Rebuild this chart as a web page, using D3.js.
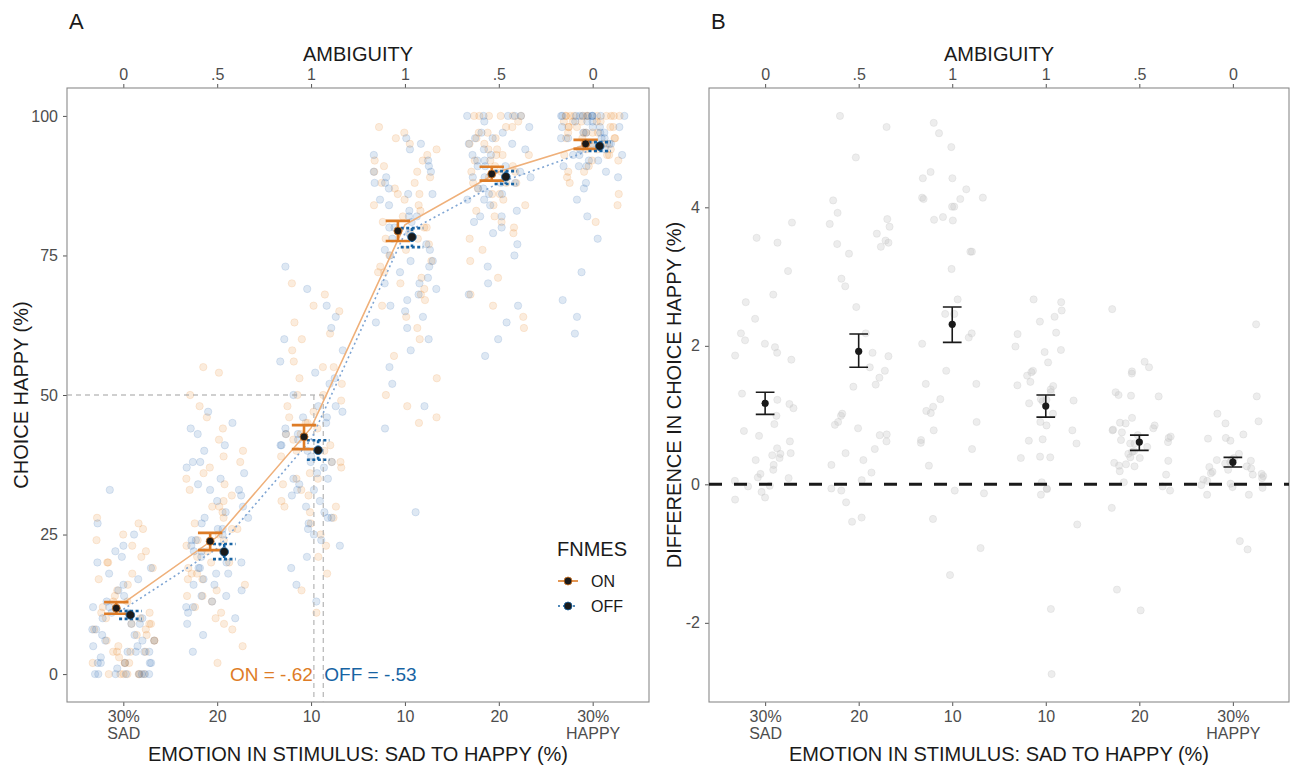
<!DOCTYPE html>
<html>
<head>
<meta charset="utf-8">
<script src="https://cdn.jsdelivr.net/npm/d3@7"></script>
<style>
body { margin: 0; background: #fff; }
text { font-family: "Liberation Sans", Arial, Helvetica, sans-serif; }
</style>
</head>
<body>
<svg id="chart" width="1293" height="767"></svg>
<script>
// ---- data ----
var emotionLabels = ["30%", "20", "10", "10", "20", "30%"];
var emotionSub = ["SAD", "", "", "", "", "HAPPY"];
var ambiguityLabels = ["0", ".5", "1", "1", ".5", "0"];
var yTicksA = [0, 25, 50, 75, 100];
var yTicksB = [-2, 0, 2, 4];

// panel A: group means and error bars (choice happy %)
var onMean = [11.8, 23.8, 42.5, 79.4, 89.6, 95.0];
var onLo   = [10.8, 22.2, 40.3, 77.6, 88.4, 94.1];
var onHi   = [12.9, 25.3, 44.6, 81.2, 90.9, 95.7];
var offMean = [10.6, 21.9, 40.1, 78.3, 89.1, 94.6];
var offLo   = [9.9, 20.6, 38.4, 76.5, 87.8, 93.7];
var offHi   = [11.3, 23.3, 41.9, 79.9, 90.1, 95.3];
// fitted curves drawn through the groups
var onFit  = [12.7, 24.6, 44.1, 80.5, 90.0, 95.2];
var offFit = [11.6, 22.5, 42.0, 79.0, 88.0, 94.0];
// points of subjective equality (x position) and their labels
var pseX = [3.03, 3.13];
var pseLabels = ["ON = -.62", "OFF = -.53"];

// panel A: individual observations
var onPts = [
  [0,0,0,0,0,0,0,2,2,2,2,4,4,4,4,5,6,6,7,7,8,8,9,9,10,10,11,11,12,13,13,14,15,16,17,18,19,20,20,21,22,23,24,25,26,27,28,3,6,9],
  [2,5,8,9,10,11,12,13,14,15,16,17,18,19,20,20,21,22,23,24,25,26,27,28,29,30,31,32,33,34,35,36,37,38,39,40,42,44,46,48,50,54,55,14,18,22,26,30,17,24],
  [11,15,18,21,23,25,27,28,29,30,31,32,33,34,35,36,37,38,39,40,41,42,43,44,45,46,47,48,49,50,52,53,55,56,58,60,61,63,65,66,68,70,30,35,40,45,50,55,38,43],
  [45,46,48,50,53,57,60,62,64,66,67,68,69,70,71,72,73,74,75,76,77,78,79,80,81,82,83,84,85,86,87,88,89,90,90,91,92,93,94,95,96,97,98,72,78,84,88,80,86,92],
  [62,64,66,68,71,74,76,78,79,80,81,82,83,84,85,86,87,88,88,89,90,90,91,92,92,93,93,94,95,95,96,97,98,98,99,100,100,100,100,100,100,84,88,91,94,96,86,90,93,97],
  [81,84,86,88,89,90,91,92,92,93,93,94,94,95,95,96,96,97,97,97,98,98,98,99,99,99,100,100,100,100,100,100,100,100,100,100,100,100,90,93,95,96,97,98,99,94,96,98,99,97]
];
var offPts = [
  [0,0,0,0,0,0,0,0,2,2,2,2,2,4,4,4,4,5,6,6,7,7,8,9,9,10,10,11,12,12,13,14,15,16,17,18,19,20,21,22,23,25,27,33,3,5,8,11,1,6],
  [4,7,9,10,11,12,13,14,15,16,17,18,19,19,20,21,22,23,24,25,26,27,28,29,30,31,32,33,34,35,36,37,38,40,41,43,45,47,12,16,20,24,28,14,18,22,26,33,38,44],
  [13,16,19,21,23,24,25,26,27,28,29,30,31,32,33,34,35,36,37,38,39,40,41,42,43,44,45,46,47,48,50,52,54,56,58,60,62,64,66,69,73,28,33,38,43,48,53,35,41,46],
  [29,44,48,52,55,58,60,62,63,64,65,66,67,68,69,70,71,72,73,74,75,76,77,78,79,80,81,82,83,84,85,86,87,88,89,90,91,92,93,94,95,96,70,76,82,86,90,74,80,88],
  [57,60,63,66,68,70,73,75,77,79,80,81,82,83,84,85,86,87,87,88,89,89,90,91,91,92,93,93,94,95,96,96,97,98,99,100,100,100,100,100,82,85,88,91,94,86,89,92,95,97],
  [61,64,67,72,78,82,85,87,88,89,90,91,91,92,92,93,93,94,94,95,95,96,96,97,97,97,98,98,98,99,99,100,100,100,100,100,100,100,100,100,100,100,91,93,95,96,97,98,99,96]
];

// panel B: ON - OFF difference
var diffMean = [1.17, 1.92, 2.31, 1.13, 0.61, 0.32];
var diffLo   = [1.01, 1.69, 2.05, 0.97, 0.49, 0.25];
var diffHi   = [1.33, 2.17, 2.56, 1.29, 0.71, 0.39];
var diffPts = [
  [3.78,3.56,3.49,3.08,2.74,2.63,2.39,2.18,2.08,2.03,1.98,1.90,1.86,1.80,1.31,1.16,1.10,0.99,0.87,0.77,0.70,0.62,0.52,0.45,0.44,0.38,0.35,0.28,0.21,0.15,0.09,0.05,-0.02,-0.11,-0.19,-0.22,1.22,0.42,0.10,-0.03],
  [5.32,5.16,4.72,4.10,3.92,3.83,3.76,3.72,3.62,3.52,3.49,3.47,3.43,3.33,2.97,2.86,2.56,2.18,1.90,1.85,1.69,1.64,1.54,1.44,1.41,1.02,0.99,0.90,0.86,0.81,0.72,0.71,0.62,0.51,0.45,0.35,0.28,0.17,0.06,-0.06,-0.09,-0.26,-0.48,-0.54],
  [5.22,5.07,4.87,4.51,4.42,4.42,4.26,4.14,4.12,4.14,4.12,4.01,4.01,3.86,3.81,3.82,3.36,3.36,3.11,2.67,2.46,2.46,2.18,2.12,2.03,1.64,1.45,1.45,1.23,1.12,1.06,1.03,0.90,0.78,0.64,0.60,0.51,0.27,-0.09,-0.13,-0.50,-0.92,-1.31],
  [2.67,2.63,2.51,2.42,2.35,2.19,2.17,1.99,1.94,1.91,1.76,1.64,1.62,1.57,1.48,1.43,1.42,1.37,1.33,1.23,1.22,1.21,1.20,1.17,1.02,0.90,0.85,0.78,0.65,0.63,0.59,0.40,0.39,0.38,0.03,-0.06,-0.07,-0.15,-0.58,-1.80,-2.74],
  [2.53,1.77,1.69,1.63,1.60,1.33,1.29,1.28,1.27,0.96,0.89,0.88,0.85,0.81,0.79,0.78,0.75,0.71,0.69,0.67,0.64,0.61,0.59,0.59,0.54,0.48,0.47,0.44,0.39,0.38,0.34,0.31,0.29,0.27,0.26,0.19,0.14,0.03,-0.03,-0.09,-0.34,-1.52,-1.82],
  [2.31,1.27,1.02,0.91,0.88,0.72,0.67,0.66,0.63,0.44,0.38,0.36,0.35,0.34,0.32,0.30,0.26,0.25,0.23,0.21,0.18,0.16,0.15,0.14,0.12,0.09,0.07,0.05,0.01,-0.01,-0.04,-0.05,-0.15,-0.15,-0.82,-0.94]
];

// ---- styling ----
var ON_COL = "#DE7C26";
var OFF_COL = "#1763A3";
var TEXT_DARK = "#1a1a1a";
var TEXT_TICK = "#4d4d4d";
var TOP = 88, BOTTOM = 702;

var svg = d3.select("#chart");

// ggplot-like 5% expansion of the data range
function expand(ext){
  var pad = (ext[1] - ext[0]) * 0.05;
  return [ext[0] - pad, ext[1] + pad];
}

// fixed (hash based) horizontal jitter so overplotted points separate
function spread(i, seed){
  var h = Math.sin((i + 1) * 12.9898 + seed * 78.233) * 43758.5453;
  return (h - Math.floor(h) - 0.5) * 0.68;
}

function drawFrame(x, y, ticksY, yTitle, yTitleX, letter){
  var left = x.range()[0], right = x.range()[1];
  var mid = (left + right) / 2;
  var cats = d3.range(1, 7);

  var bottom = svg.append("g")
    .attr("transform", "translate(0," + BOTTOM + ")")
    .call(d3.axisBottom(x).tickValues(cats).tickSize(4).tickPadding(4.5)
      .tickFormat(function(d){ return emotionLabels[d-1]; }));
  bottom.selectAll("text").each(function(d){
    if(emotionSub[d-1]){
      d3.select(this).append("tspan").attr("x", 0).attr("dy", "1.05em").text(emotionSub[d-1]);
    }
  });

  var top = svg.append("g")
    .attr("transform", "translate(0," + TOP + ")")
    .call(d3.axisTop(x).tickValues(cats).tickSize(4).tickPadding(4)
      .tickFormat(function(d){ return ambiguityLabels[d-1]; }));

  var leftAx = svg.append("g")
    .attr("transform", "translate(" + left + ",0)")
    .call(d3.axisLeft(y).tickValues(ticksY).tickSize(4).tickPadding(5)
      .tickFormat(function(d){ return String(d); }));

  [bottom, top, leftAx].forEach(function(ax){
    ax.select(".domain").remove();
    ax.selectAll(".tick line").attr("stroke", "#555").attr("stroke-width", 1);
    ax.selectAll("text").attr("fill", TEXT_TICK).style("font-size", "16px")
      .style("font-family", "'Liberation Sans', Arial, sans-serif");
  });

  svg.append("rect")
    .attr("x", left).attr("y", TOP)
    .attr("width", right - left).attr("height", BOTTOM - TOP)
    .attr("fill", "none").attr("stroke", "#8a8a8a").attr("stroke-width", 1.1);

  svg.append("text").attr("x", mid).attr("y", 61).attr("text-anchor", "middle")
    .attr("fill", TEXT_DARK).style("font-size", "20px").text("AMBIGUITY");
  svg.append("text").attr("x", mid).attr("y", 761).attr("text-anchor", "middle")
    .attr("fill", TEXT_DARK).style("font-size", "20px").text("EMOTION IN STIMULUS: SAD TO HAPPY (%)");
  svg.append("text").attr("transform", "translate(" + yTitleX + ",395) rotate(-90)")
    .attr("text-anchor", "middle").attr("fill", TEXT_DARK).style("font-size", "20px").text(yTitle);
  svg.append("text").attr("x", left + 2).attr("y", 29)
    .attr("fill", TEXT_DARK).style("font-size", "22px").text(letter);
}

function errorBar(g, x, y, cx, lo, hi, half, color, width, dash){
  var p = d3.path();
  p.moveTo(x(cx - half), y(hi)); p.lineTo(x(cx + half), y(hi));
  p.moveTo(x(cx), y(hi)); p.lineTo(x(cx), y(lo));
  p.moveTo(x(cx - half), y(lo)); p.lineTo(x(cx + half), y(lo));
  g.append("path").attr("d", p.toString()).attr("fill", "none")
    .attr("stroke", color).attr("stroke-width", width)
    .attr("stroke-dasharray", dash || null);
}

// ================= Panel A =================
var xA = d3.scaleLinear().domain([0.4, 6.6]).range([67, 649]);
var yA = d3.scaleLinear().domain(expand([0, 100])).range([BOTTOM, TOP]);

drawFrame(xA, yA, yTicksA, "CHOICE HAPPY (%)", 28, "A");

var gA = svg.append("g");

// raw observations
[[onPts, "#E8872A", 1], [offPts, "#2F6DB3", 7]].forEach(function(set){
  set[0].forEach(function(vals, c){
    gA.selectAll(null).data(vals).enter().append("circle")
      .attr("cx", function(d, i){ return xA(c + 1 + spread(i, set[2] + c * 13)); })
      .attr("cy", function(d){ return yA(d); })
      .attr("r", 3.7)
      .attr("fill", set[1]).attr("fill-opacity", 0.16)
      .attr("stroke", set[1]).attr("stroke-opacity", 0.18).attr("stroke-width", 0.8);
  });
});

// PSE guides
gA.append("line")
  .attr("x1", xA.range()[0]).attr("x2", xA(pseX[1]))
  .attr("y1", yA(50)).attr("y2", yA(50))
  .attr("stroke", "#a0a0a0").attr("stroke-width", 1.2).attr("stroke-dasharray", "5,4");
pseX.forEach(function(px){
  gA.append("line")
    .attr("x1", xA(px)).attr("x2", xA(px))
    .attr("y1", yA(50)).attr("y2", BOTTOM)
    .attr("stroke", "#b5b5b5").attr("stroke-width", 1.2).attr("stroke-dasharray", "5,4");
});

// fitted curves
var fitLine = d3.line()
  .x(function(d, i){ return xA(i + 1); })
  .y(function(d){ return yA(d); });
gA.append("path").attr("d", fitLine(onFit)).attr("fill", "none")
  .attr("stroke", "#EFB07A").attr("stroke-width", 1.6);
gA.append("path").attr("d", fitLine(offFit)).attr("fill", "none")
  .attr("stroke", "#7FA5D3").attr("stroke-width", 1.6).attr("stroke-dasharray", "2,3");

// error bars and means
var dodge = 0.075;
onMean.forEach(function(m, i){
  errorBar(gA, xA, yA, i + 1 - dodge, onLo[i], onHi[i], 0.13, ON_COL, 2.6);
});
offMean.forEach(function(m, i){
  errorBar(gA, xA, yA, i + 1 + dodge, offLo[i], offHi[i], 0.12, OFF_COL, 2.6, "3,2.5");
});
gA.selectAll(null).data(onMean).enter().append("circle")
  .attr("cx", function(d, i){ return xA(i + 1 - dodge); })
  .attr("cy", function(d){ return yA(d); })
  .attr("r", 4).attr("fill", "#1a1a1a").attr("stroke", ON_COL).attr("stroke-width", 0.8);
gA.selectAll(null).data(offMean).enter().append("circle")
  .attr("cx", function(d, i){ return xA(i + 1 + dodge); })
  .attr("cy", function(d){ return yA(d); })
  .attr("r", 4.3).attr("fill", "#1a1a1a").attr("stroke", OFF_COL).attr("stroke-width", 0.8);

// PSE labels
gA.append("text").attr("x", xA(pseX[0]) - 1).attr("y", yA(0))
  .attr("text-anchor", "end").attr("dominant-baseline", "central")
  .attr("fill", ON_COL).style("font-size", "19px").text(pseLabels[0]);
gA.append("text").attr("x", xA(pseX[1]) + 1).attr("y", yA(0))
  .attr("text-anchor", "start").attr("dominant-baseline", "central")
  .attr("fill", OFF_COL).style("font-size", "19px").text(pseLabels[1]);

// legend
var leg = svg.append("g").attr("transform", "translate(557,0)");
leg.append("text").attr("x", 0).attr("y", 556).attr("fill", TEXT_DARK)
  .style("font-size", "20px").text("FNMES");
[["ON", ON_COL, null, 581], ["OFF", OFF_COL, "2,3", 606]].forEach(function(k){
  leg.append("line").attr("x1", 1).attr("x2", 21).attr("y1", k[3]).attr("y2", k[3])
    .attr("stroke", k[1]).attr("stroke-width", 1.6)
    .attr("stroke-dasharray", k[2]);
  leg.append("circle").attr("cx", 11).attr("cy", k[3]).attr("r", 4)
    .attr("fill", "#1a1a1a").attr("stroke", k[1]).attr("stroke-width", 0.8);
  leg.append("text").attr("x", 34).attr("y", k[3]).attr("dominant-baseline", "central")
    .attr("fill", TEXT_DARK).style("font-size", "16px").text(k[0]);
});

// ================= Panel B =================
var xB = d3.scaleLinear().domain([0.4, 6.6]).range([709, 1289]);
var allDiff = d3.merge(diffPts);
var yB = d3.scaleLinear().domain(expand(d3.extent(allDiff))).range([BOTTOM, TOP]);

drawFrame(xB, yB, yTicksB, "DIFFERENCE IN CHOICE HAPPY (%)", 681, "B");

var gB = svg.append("g");
diffPts.forEach(function(vals, c){
  gB.selectAll(null).data(vals).enter().append("circle")
    .attr("cx", function(d, i){ return xB(c + 1 + spread(i, 101 + c * 17)); })
    .attr("cy", function(d){ return yB(d); })
    .attr("r", 3.6)
    .attr("fill", "#c4c4c4").attr("fill-opacity", 0.3)
    .attr("stroke", "#c4c4c4").attr("stroke-opacity", 0.35).attr("stroke-width", 0.8);
});

gB.append("line")
  .attr("x1", xB.range()[0]).attr("x2", xB.range()[1])
  .attr("y1", yB(0)).attr("y2", yB(0))
  .attr("stroke", "#1a1a1a").attr("stroke-width", 3).attr("stroke-dasharray", "13,12");

diffMean.forEach(function(m, i){
  errorBar(gB, xB, yB, i + 1, diffLo[i], diffHi[i], 0.1, "#1a1a1a", 1.6);
});
gB.selectAll(null).data(diffMean).enter().append("circle")
  .attr("cx", function(d, i){ return xB(i + 1); })
  .attr("cy", function(d){ return yB(d); })
  .attr("r", 3.6).attr("fill", "#1a1a1a");
</script>
</body>
</html>
